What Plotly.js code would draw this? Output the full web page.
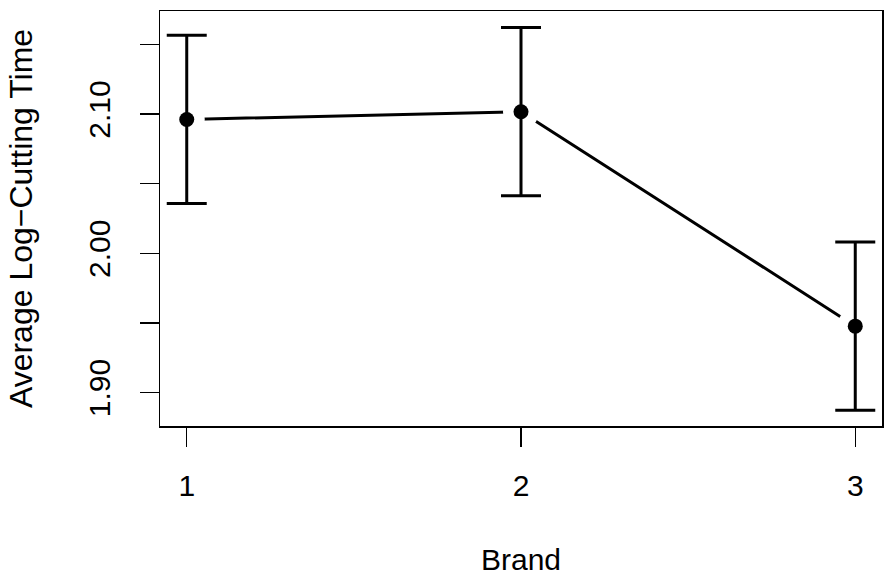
<!DOCTYPE html>
<html>
<head>
<meta charset="utf-8">
<script src="https://cdn.plot.ly/plotly-3.0.1.min.js"></script>
<style>
  html, body { margin: 0; padding: 0; background: #fff; }
  #chart { width: 886px; height: 576px; }
</style>
</head>
<body>
<div id="chart"></div>
<script>
const brands = [1, 2, 3];
const brandLabels = ['1', '2', '3'];
const means = [2.0961, 2.1017, 1.9477];
const halfWidths = [0.0604, 0.0604, 0.0604];
const yTickVals = [1.90, 1.95, 2.00, 2.05, 2.10, 2.15];
const yTickText = ['1.90', '', '2.00', '', '2.10', ''];

const font = 'Liberation Sans, Arial, Helvetica, sans-serif';

const traces = [
  {
    x: brands, y: means, type: 'scatter', mode: 'lines',
    line: { color: '#000', width: 3 }, hoverinfo: 'skip', showlegend: false
  },
  {
    x: brands, y: means, type: 'scatter', mode: 'markers',
    marker: { color: '#fff', size: 36, line: { width: 0 } },
    hoverinfo: 'skip', showlegend: false
  },
  {
    x: brands, y: means, type: 'scatter', mode: 'markers',
    marker: { color: '#000', size: 15 },
    error_y: { type: 'data', array: halfWidths, visible: true, color: '#000', thickness: 3, width: 20 },
    hoverinfo: 'skip', showlegend: false
  }
];

const layout = {
  width: 886, height: 576,
  margin: { l: 160, r: 4, t: 11, b: 150 },
  paper_bgcolor: '#fff', plot_bgcolor: '#fff',
  font: { family: font, color: '#000', size: 30 },
  showlegend: false,
  xaxis: {
    range: [0.92, 3.08],
    tickvals: brands, ticktext: brandLabels,
    ticks: 'outside', ticklen: 19, tickwidth: 1.5, tickcolor: '#000',
    ticklabelstandoff: 13,
    showgrid: false, zeroline: false,
    showline: true, linecolor: '#000', linewidth: 1.5, mirror: true,
    tickfont: { family: font, size: 30, color: '#000' },
    title: { text: 'Brand', font: { family: font, size: 30, color: '#000' }, standoff: 48 }
  },
  yaxis: {
    range: [1.876, 2.174],
    tickvals: yTickVals, ticktext: yTickText,
    tickangle: -90,
    ticks: 'outside', ticklen: 19, tickwidth: 1.5, tickcolor: '#000',
    ticklabelstandoff: 18,
    showgrid: false, zeroline: false,
    showline: true, linecolor: '#000', linewidth: 1.5, mirror: true,
    tickfont: { family: font, size: 30, color: '#000' },
    title: { text: 'Average Log−Cutting Time', font: { family: font, size: 32, color: '#000' }, standoff: 40 }
  }
};

Plotly.newPlot('chart', traces, layout, { displayModeBar: false, staticPlot: true });
</script>
</body>
</html>
